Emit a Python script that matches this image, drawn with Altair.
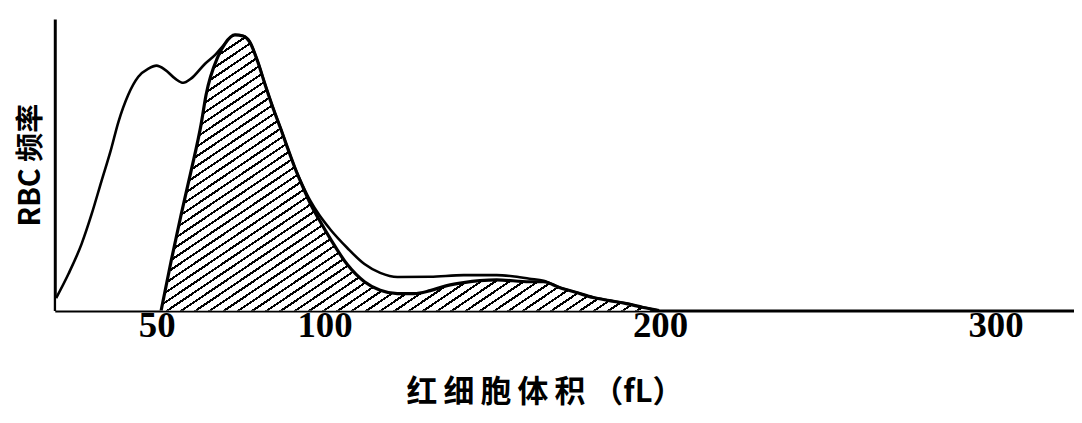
import math
import altair as alt
import pandas as pd

# ---- data ----
outer_volume = [20.0, 23.7, 27.6, 30.6, 33.5, 36.2, 38.6, 41.5, 44.5, 47.5, 49.9, 52.5, 55.5,
                57.9, 60.2, 64.4, 67.4, 70.3, 73.3, 75.7, 77.7, 80.1, 82.2, 84.6, 87.0, 89.0,
                91.1, 93.5, 95.8, 98.5, 101.8, 106.8, 111.9, 116.6, 121.7, 131.5, 141.5, 151.3,
                156.0, 161.1, 165.3, 170.0, 175.1, 180.1, 184.9, 190.0, 195.0, 199.7]
outer_freq = [4.5, 13.3, 24.1, 34.9, 46.7, 57.5, 68.3, 78.0, 84.5, 87.4, 88.5, 87.0, 83.8,
              82.3, 83.8, 89.2, 92.4, 96.4, 99.6, 99.2, 97.1, 89.9, 82.0, 73.4, 65.5, 58.7,
              51.8, 45.2, 39.6, 34.4, 29.2, 22.6, 16.8, 13.6, 12.1, 12.2, 12.8, 12.8,
              12.4, 11.5, 10.8, 8.3, 6.5, 4.7, 3.6, 2.5, 1.1, 0.0]

inner_volume = [51.3, 54.3, 57.3, 60.2, 63.2, 64.7, 68.2, 70.3, 73.3, 75.7, 77.7, 80.1, 82.2,
                84.6, 87.0, 89.0, 91.1, 93.5, 95.8, 98.5, 101.8, 106.8, 111.9, 116.6, 121.7,
                126.7, 131.5, 136.5, 141.5, 146.3, 151.3, 161.1, 165.3, 170.0, 175.1, 180.1,
                184.9, 190.0, 195.0, 199.7]
inner_freq = [0.0, 18.0, 34.9, 50.3, 67.2, 78.0, 91.7, 96.4, 99.6, 99.2, 97.1, 89.9, 82.0,
              73.4, 65.5, 58.7, 51.8, 44.8, 38.6, 32.6, 25.8, 16.6, 10.4, 7.3, 6.1,
              6.1, 7.2, 9.0, 10.1, 10.8, 11.1, 10.4, 10.4, 8.3, 6.5, 4.7,
              3.6, 2.5, 1.1, 0.0]

tick_values = [50, 100, 200, 300]
x_title = "红\u2009细\u2009胞\u2009体\u2009积 （fL）"
y_title = "RBC 频率"

# ---- layout / style ----
X_DOMAIN = [19.6, 323.4]
Y_DOMAIN = [0, 105.4]
PLOT_W = 1024
PLOT_H = 293

outer = pd.DataFrame({"volume": outer_volume, "freq": outer_freq})
inner = pd.DataFrame({"volume": inner_volume, "freq": inner_freq})

# hatch pattern built as a striped linear gradient (stripes at ~34 deg)
px_x = PLOT_W / (X_DOMAIN[1] - X_DOMAIN[0])
px_y = PLOT_H / (Y_DOMAIN[1] - Y_DOMAIN[0])
bw = (max(inner_volume) - min(inner_volume)) * px_x
bh = max(inner_freq) * px_y
tan_t = math.tan(math.radians(34))
gx = tan_t * bw / bh
gy = 1.0
g2 = gx * gx + gy * gy
dt_per_px = math.hypot(gx / bw, gy / bh) / g2
spacing = 8.0
period = spacing * dt_per_px
line_frac = 0.26
stops = []
k = 0
while k * period < 1:
    a = round(k * period, 5)
    b = round(min(k * period + period * line_frac, 1.0), 5)
    c = round(min((k + 1) * period, 1.0), 5)
    stops += [alt.GradientStop(color="black", offset=a),
              alt.GradientStop(color="black", offset=b),
              alt.GradientStop(color="white", offset=b),
              alt.GradientStop(color="white", offset=c)]
    k += 1

hatch = alt.Gradient(gradient="linear", stops=stops, x1=0, y1=0, x2=round(gx, 4), y2=gy)

x_enc = alt.X(
    "volume:Q",
    scale=alt.Scale(domain=X_DOMAIN, nice=False, zero=False),
    axis=alt.Axis(
        values=tick_values, title=x_title, grid=False, ticks=False,
        domainColor="black", domainWidth=3,
        labelFont="Liberation Serif", labelFontSize=37, labelFontWeight="bold",
        labelColor="black", labelPadding=-3, labelFlush=False,
        titleFont="Noto Sans CJK SC", titleFontSize=31, titleFontWeight="bold",
        titleColor="black", titleX=492, titlePadding=34, titleAlign="center",
    ),
)
y_enc = alt.Y(
    "freq:Q",
    scale=alt.Scale(domain=Y_DOMAIN, nice=False),
    axis=alt.Axis(
        title=y_title, labels=False, ticks=False, grid=False,
        domainColor="black", domainWidth=3,
        titleFont="Noto Sans CJK SC", titleFontSize=29, titleFontWeight="bold",
        titleColor="black", titlePadding=9,
    ),
)

outer_area = alt.Chart(outer).mark_area(interpolate="monotone", fill="white").encode(x=x_enc, y=y_enc)
outer_line = alt.Chart(outer).mark_line(interpolate="monotone", color="black", strokeWidth=2.6).encode(x=x_enc, y=y_enc)
inner_area = alt.Chart(inner).mark_area(interpolate="monotone", fill=hatch).encode(x=x_enc, y=y_enc)
inner_line = alt.Chart(inner).mark_line(interpolate="monotone", color="black", strokeWidth=3.2).encode(x=x_enc, y=y_enc)

chart = (
    alt.layer(outer_area, outer_line, inner_area, inner_line)
    .properties(width=PLOT_W, height=PLOT_H, padding={"left": 9, "top": 10, "right": 0, "bottom": 5},
                background="white")
    .configure_view(stroke=None)
)

chart.save("out.html", embed_options={"renderer": "svg", "actions": False})
